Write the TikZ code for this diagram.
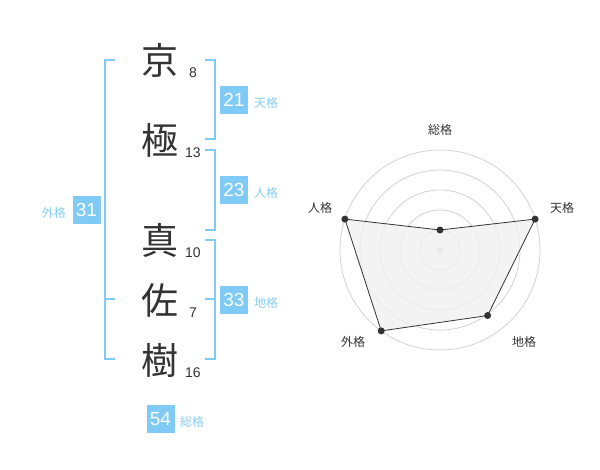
\documentclass[tikz,border=0pt]{standalone}
\usepackage{fontspec}
\usetikzlibrary{calc}
\setmainfont{Liberation Sans}
\newfontfamily\cjk{Noto Sans CJK JP}
\definecolor{boxblue}{RGB}{127,203,246}
\definecolor{lblblue}{RGB}{135,205,245}
\definecolor{ink}{RGB}{51,51,51}
\definecolor{ringgray}{RGB}{210,210,210}
\definecolor{areagray}{RGB}{240,240,240}
\tikzset{
  kanji/.style={font=\cjk\fontsize{37}{37}\selectfont, text=ink, inner sep=0pt},
  strokes/.style={font=\fontsize{14}{14}\selectfont, text=ink, inner sep=0pt},
  numbox/.style={fill=boxblue, text=white, minimum width=28pt, minimum height=28pt, inner sep=0pt, font=\fontsize{19}{19}\selectfont},
  kaku/.style={text=lblblue, font=\cjk\fontsize{12}{12}\selectfont, inner sep=0pt},
  brk/.style={draw=boxblue, line width=1.6pt},
  ring/.style={draw=ringgray, line width=0.8pt},
  axlabel/.style={text=ink, font=\cjk\fontsize{12}{12}\selectfont, inner sep=0pt},
  dot/.style={circle, fill=ink, minimum size=7pt, inner sep=0pt},
}
\begin{document}
\begin{tikzpicture}[x=1pt, y=-1pt]
\useasboundingbox (0,0) rectangle (600,470);
% characters
\node[kanji] (c1) at (160,60) {京};
\node[kanji] (c2) at (160,140) {極};
\node[kanji] (c3) at (160,240) {真};
\node[kanji] (c4) at (160,300) {佐};
\node[kanji] (c5) at (160,360) {樹};
\node[strokes] (s1) at (193,73) {8};
\node[strokes] (s2) at (193,153) {13};
\node[strokes] (s3) at (193,253) {10};
\node[strokes] (s4) at (193,313) {7};
\node[strokes] (s5) at (193,373) {16};
% brackets
\coordinate (r1a) at (205,60); \coordinate (r1b) at (205,139);
\coordinate (r2a) at (205,150); \coordinate (r2b) at (205,230);
\coordinate (r3a) at (205,240); \coordinate (r3b) at (205,359); \coordinate (r3m) at (205,299);
\coordinate (la) at (115,60); \coordinate (lb) at (115,359); \coordinate (lm) at (115,299);
\draw[brk] (r1a) -- ++(10,0) |- (r1b);
\draw[brk] (r2a) -- ++(10,0) |- (r2b);
\draw[brk] (r3a) -- ++(10,0) |- (r3b);
\draw[brk] (r3m) -- ++(10,0);
\draw[brk] (la) -- ++(-10,0) |- (lb);
\draw[brk] (lm) -- ++(-10,0);
% totals
\node[numbox] (b1) at (234,100) {21};
\node[kaku, anchor=west] (k1) at (254,103) {天格};
\node[numbox] (b2) at (234,190) {23};
\node[kaku, anchor=west] (k2) at (254,193) {人格};
\node[numbox] (b3) at (234,300) {33};
\node[kaku, anchor=west] (k3) at (254,303) {地格};
\node[numbox] (b4) at (86.5,210) {31};
\node[kaku, anchor=east] (k4) at (66,213) {外格};
\node[numbox] (b5) at (160.5,419) {54};
\node[kaku, anchor=west] (k5) at (180,422) {総格};
% radar
\coordinate (ctr) at (440,250);
\foreach \r in {20,40,60,80,100} \draw[ring] (ctr) circle[radius=\r];
\fill[ringgray] (ctr) circle[radius=3.5];
\coordinate (p1) at ($(ctr)+(-90:20)$);
\coordinate (p2) at ($(ctr)+(-18:100)$);
\coordinate (p3) at ($(ctr)+(54:81)$);
\coordinate (p4) at ($(ctr)+(126:100)$);
\coordinate (p5) at ($(ctr)+(198:100)$);
\draw[ink, fill=areagray, fill opacity=0.8, line width=0.8pt] (p1) -- (p2) -- (p3) -- (p4) -- (p5) -- cycle;
\foreach \p in {p1,p2,p3,p4,p5} \node[dot] at (\p) {};
\node[axlabel] (a1) at (440,130) {総格};
\node[axlabel] (a2) at (562,208) {天格};
\node[axlabel] (a3) at (524,342) {地格};
\node[axlabel] (a4) at (353,342) {外格};
\node[axlabel] (a5) at (320,208) {人格};
\end{tikzpicture}
\end{document}
